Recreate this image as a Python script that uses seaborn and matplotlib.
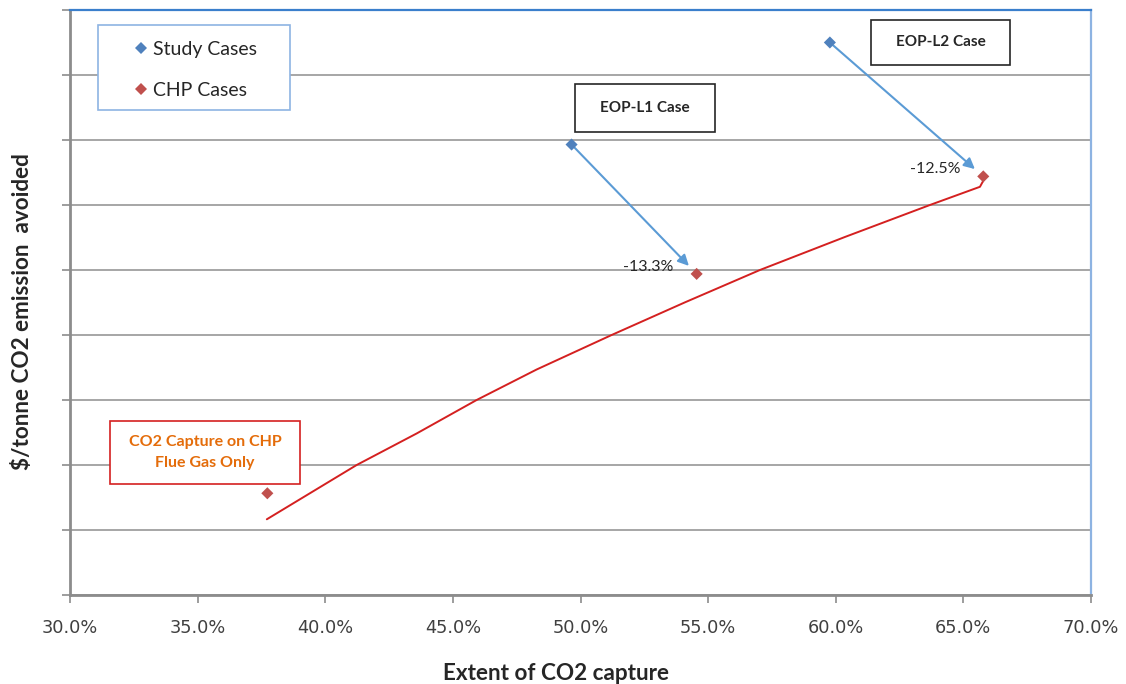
import matplotlib
matplotlib.use("Agg")
import matplotlib.pyplot as plt
from matplotlib.patches import Rectangle
from matplotlib.ticker import FuncFormatter, MultipleLocator
import seaborn as sns
import pandas as pd

# Cost of CO2 avoided versus extent of capture
study_x = [49.65, 59.77]
study_y = [69.3, 85.0]
chp_x = [37.73, 54.55, 65.78]
chp_y = [15.65, 49.4, 64.4]
change_labels = ["-13.3%", "-12.5%"]

# fitted trend through the CHP cases
trend_x = [37.71, 41.23, 43.58, 45.93, 48.28, 51.22, 54.09, 57.03, 60.36,
           63.69, 65.65, 65.79]
trend_y = [11.65, 20.0, 24.85, 30.0, 34.69, 40.0, 45.02, 50.0, 55.08,
           60.0, 62.8, 63.8]

series_names = ["Study Cases", "CHP Cases"]
blue = "#4F81BD"
red = "#C0504D"

points = pd.DataFrame({
    "capture": study_x + chp_x,
    "cost": study_y + chp_y,
    "series": [series_names[0]] * len(study_x) + [series_names[1]] * len(chp_x),
})
trend = pd.DataFrame({"capture": trend_x, "cost": trend_y})

sns.set_theme(style="white")
plt.rcParams["font.family"] = ["Lato", "DejaVu Sans"]

fig = plt.figure(figsize=(11.26, 6.84), dpi=100)
ax = fig.add_axes([0.0622, 0.1301, 0.9067, 0.8553])

sns.lineplot(data=trend, x="capture", y="cost", sort=False, color="#D42020",
             linewidth=1.4, ax=ax, zorder=3)
sns.scatterplot(data=points, x="capture", y="cost", hue="series",
                palette={series_names[0]: blue, series_names[1]: red},
                marker="D", s=38, linewidth=0, ax=ax, zorder=5)

# arrows from each study case to its CHP counterpart, with the change
for sx, sy, cx, cy, lab in zip(study_x, study_y, chp_x[1:], chp_y[1:], change_labels):
    ax.annotate("", xy=(cx, cy), xytext=(sx, sy),
                arrowprops=dict(arrowstyle="-|>", color="#5B9BD5", lw=1.5,
                                shrinkA=3, shrinkB=8, mutation_scale=16),
                zorder=4)
    ax.annotate(lab, xy=(cx, cy), xytext=(-23, 7), textcoords="offset pixels",
                ha="right", va="center", fontsize=11.5, color="#262626")

ax.set_xlim(30, 70)
ax.set_ylim(0, 90)
ax.xaxis.set_major_locator(MultipleLocator(5))
ax.yaxis.set_major_locator(MultipleLocator(10))
ax.xaxis.set_major_formatter(FuncFormatter(lambda v, p: f"{v:.1f}%"))
ax.set_yticklabels([])
ax.grid(axis="y", color="#A6A6A6", linewidth=1.4)
ax.set_axisbelow(True)

for side in ("left", "bottom"):
    ax.spines[side].set_color("#8C8C8C")
    ax.spines[side].set_linewidth(2)
ax.spines["top"].set_color("#3A7FCC")
ax.spines["top"].set_linewidth(1.6)
ax.spines["right"].set_color("#8DB3E2")
ax.spines["right"].set_linewidth(1.6)

ax.tick_params(axis="both", which="major", direction="out", length=6,
               width=1.2, color="#8C8C8C", bottom=True, left=True)
ax.tick_params(axis="x", labelsize=12.8, labelcolor="#404040", pad=11)
for t in ax.get_xticklabels():
    t.set_family("DejaVu Sans")

ax.set_xlabel("Extent of CO2 capture", fontsize=16.2, fontweight="bold",
              color="#262626")
ax.set_ylabel("$/tonne CO2 emission  avoided", fontsize=16.2, fontweight="bold",
              color="#262626")
ax.xaxis.label.set_va("center")
ax.yaxis.label.set_va("center")
ax.xaxis.set_label_coords(0.476, -0.134)
ax.yaxis.set_label_coords(-0.047, 0.484)

# legend, framed by its own box
leg = ax.legend(loc="upper left", bbox_to_anchor=(0.0617, 0.9476), frameon=False,
                fontsize=14, labelspacing=1.26, borderpad=0,
                handletextpad=0.22, handlelength=0.8, borderaxespad=0)
for txt in leg.get_texts():
    txt.set_color("#262626")
ax.add_patch(Rectangle((0.0274, 0.829), 0.2155 - 0.0274, 0.974 - 0.829,
                       transform=ax.transAxes, facecolor="white",
                       edgecolor="#8EB4E3", linewidth=1.2, zorder=2.5))

# case call-out boxes
def callout(x0, x1, y0, y1, text, edge, color, size):
    ax.add_patch(Rectangle((x0, y0), x1 - x0, y1 - y0, transform=ax.transAxes,
                           facecolor="white", edgecolor=edge, linewidth=1.2,
                           zorder=6))
    ax.text((x0 + x1) / 2, (y0 + y1) / 2, text, transform=ax.transAxes,
            ha="center", va="center", fontsize=size, fontweight="bold",
            color=color, zorder=7, linespacing=1.6)

callout(0.4946, 0.6317, 0.7915, 0.8735, "EOP-L1 Case", "#262626", "#262626", 11)
callout(0.7845, 0.9207, 0.9060, 0.9830, "EOP-L2 Case", "#262626", "#262626", 11)
callout(0.0392, 0.2253, 0.1897, 0.2974, "CO2 Capture on CHP\nFlue Gas Only",
        "#D42020", "#E46C0A", 11.5)

fig.savefig("out.png", dpi=100, facecolor="white")
